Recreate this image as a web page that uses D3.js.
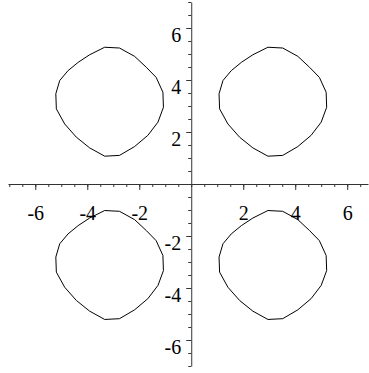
<!DOCTYPE html>
<html>
<head>
<meta charset="utf-8">
<script src="https://cdn.jsdelivr.net/npm/d3@7"></script>
<style>
  body { margin: 0; background: #fff; }
</style>
</head>
<body>
<div id="svg_area"></div>
<script>
// SVG size
var svgWidth = 369;
var svgHeight = 373;

// Outline of one closed curve, as offsets from its centre
var loopDx = [-0.19, 0.38, 0.96, 1.41, 1.79, 2.05, 2.07, 1.86, 1.47, 0.96, 0.38, -0.19, -0.77, -1.28, -1.73, -2.05, -2.07, -1.92, -1.60, -1.21, -0.77];
var loopDy = [2.12, 2.09, 1.77, 1.35, 0.96, 0.39, -0.19, -0.76, -1.27, -1.70, -2.04, -2.07, -1.75, -1.34, -0.83, -0.25, 0.33, 0.84, 1.22, 1.54, 1.83];

// Centres of the four curves
var centerX = [3.14, -3.14, -3.14, 3.14];
var centerY = [3.14, 3.14, -3.14, -3.14];

// Tick values
var majorTicks = [-6, -4, -2, 2, 4, 6];
var minorTicks = d3.range(-7, 7.01, 0.5);

var svg = d3.select("#svg_area")
  .append("svg")
  .attr("width", svgWidth)
  .attr("height", svgHeight);

var xScale = d3.scaleLinear().domain([-7.05, 6.8]).range([8, 368]);
var yScale = d3.scaleLinear().domain([-7, 7]).range([366, 2]);

// curves
var line = d3.line()
  .x(d => xScale(d[0]))
  .y(d => yScale(d[1]))
  .curve(d3.curveLinearClosed);

centerX.forEach(function(cx, i) {
  var cy = centerY[i];
  var pts = loopDx.map((dx, j) => [cx + dx, cy + loopDy[j]]);
  svg.append("path")
    .datum(pts)
    .attr("d", line)
    .attr("fill", "none")
    .attr("stroke", "#000")
    .attr("stroke-width", 1);
});

var fmt = d => d < 0 ? "-" + (-d) : d;

// x axis: minor ticks, then major ticks with labels
svg.append("g")
  .attr("transform", "translate(0," + yScale(0) + ")")
  .call(d3.axisBottom(xScale).tickValues(minorTicks).tickSize(3).tickSizeOuter(0).tickFormat(""));

var xMajor = svg.append("g")
  .attr("transform", "translate(0," + yScale(0) + ")")
  .call(d3.axisBottom(xScale).tickValues(majorTicks).tickSize(6).tickSizeOuter(0).tickPadding(16).tickFormat(fmt));
xMajor.select(".domain").remove();

// y axis
svg.append("g")
  .attr("transform", "translate(" + xScale(0) + ",0)")
  .call(d3.axisLeft(yScale).tickValues(minorTicks).tickSize(3).tickSizeOuter(0).tickFormat(""));

var yMajor = svg.append("g")
  .attr("transform", "translate(" + xScale(0) + ",0)")
  .call(d3.axisLeft(yScale).tickValues(majorTicks).tickSize(5).tickSizeOuter(0).tickPadding(5).tickFormat(fmt));
yMajor.select(".domain").remove();
yMajor.selectAll("text").attr("dy", "0.66em");

svg.selectAll("g").attr("font-family", null).attr("font-size", null);
svg.selectAll(".tick text")
  .style("font-family", "'Liberation Serif', 'Times New Roman', serif")
  .style("font-size", "20px")
  .style("fill", "#000");

svg.selectAll(".domain").attr("stroke", "#333").attr("stroke-width", 1);
svg.selectAll(".tick line").attr("stroke", "#333");
</script>
</body>
</html>
